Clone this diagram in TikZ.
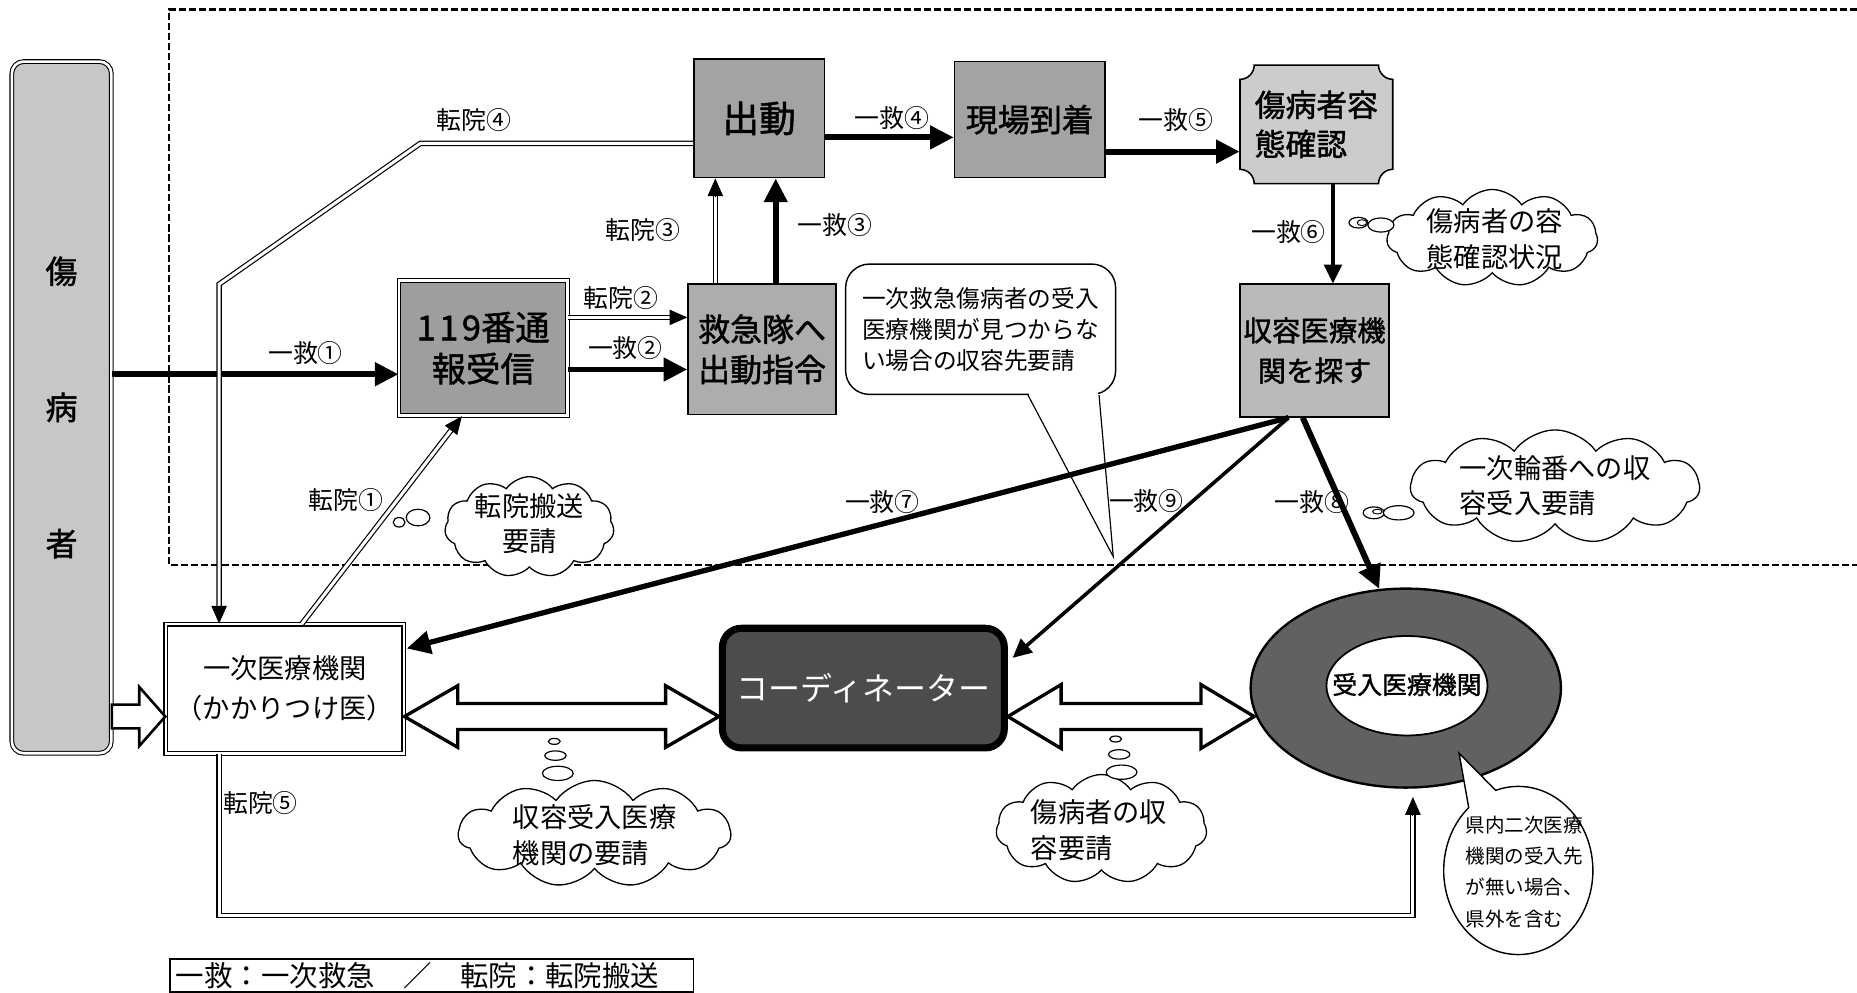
\documentclass[tikz,border=0pt]{standalone}
\usepackage{fontspec}
\setmainfont{Noto Sans CJK JP}
\newfontfamily\jpb{Noto Sans CJK JP}[FakeBold=1.4]
\usetikzlibrary{arrows.meta,shapes.geometric,shapes.symbols,shapes.callouts,calc}
\newcommand\myfs[2]{\fontsize{#1}{#2}\selectfont}
\begin{document}
\begin{tikzpicture}[x=1pt,y=-1pt,
  gbox/.style={draw,line width=1.3pt,align=center,inner sep=0pt},
  dbl/.style={double,double distance=2.2pt,line width=0.9pt},
  lab/.style={inner sep=0pt,font=\myfs{21}{21}},
  kyu/.style={line width=5pt,-{Triangle[length=20pt,width=19pt]}},
  kyum/.style={line width=3pt,-{Triangle[length=16pt,width=15pt]}},
  ten/.style={double,double distance=2.6pt,line width=1pt,shorten >=12pt},
  tentip/.style={line width=0.8pt,-{Triangle[length=15pt,width=13pt]}},
  blk/.style={draw,line width=2.8pt,fill=white,line join=miter},
  cld/.style={cloud,draw,line width=1.1pt,fill=white,cloud puffs=11,cloud puff arc=110,cloud ignores aspect,inner sep=0pt},
  ctext/.style={align=left,inner sep=0pt,font=\myfs{23}{30}},
  bub/.style={draw,line width=1pt,fill=white},
]
\useasboundingbox (0,0) rectangle (1568,838);
\fill[white] (0,0) rectangle (1568,838);

% dashed frame
\draw[line width=1.9pt,dash pattern=on 6pt off 2.5pt] (1568,8) -- (143,8) -- (143,477) -- (1568,477);

% boxes
\node[gbox,fill=black!22,double,double distance=2.2pt,line width=0.9pt,rounded corners=10pt,
      minimum width=84,minimum height=584,font=\jpb\myfs{27}{27}] (sick) at (52,344) {傷\\[88pt]病\\[88pt]者};
\node[gbox,fill=black!38,dbl,minimum width=142,minimum height=114,font=\jpb\myfs{29}{35}] (e119) at (408,294) {1\hspace{3pt}1\hspace{3pt}9番通\\報受信};
\node[gbox,fill=black!32,minimum width=125,minimum height=110,font=\jpb\myfs{27}{34}] (kyutai) at (643.5,295) {救急隊へ\\出動指令};
\node[gbox,fill=black!36,minimum width=110,minimum height=100,font=\jpb\myfs{31}{32}] (shutsu) at (641,100) {出動};
\node[gbox,fill=black!36,minimum width=127,minimum height=98,font=\jpb\myfs{27}{32}] (genba) at (869.5,101) {現場到着};
\filldraw[fill=black!20,line width=1.3pt] (1059,55) -- (1164,55) .. controls (1164,61.6) and (1169.4,67) .. (1176,67)
  -- (1176,143) .. controls (1169.4,143) and (1164,148.4) .. (1164,155)
  -- (1059,155) .. controls (1059,148.4) and (1053.6,143) .. (1047,143)
  -- (1047,67) .. controls (1053.6,67) and (1059,61.6) .. cycle;
\node[minimum width=129,minimum height=100,inner sep=0pt,align=left,font=\jpb\myfs{26}{33}] (yotai) at (1111.5,105) {傷病者容\\態確認};
\node[gbox,fill=black!27,minimum width=126,minimum height=112,font=\jpb\myfs{24}{34}] (shuyo) at (1110,296) {収容医療機\\関を探す};
\node[gbox,fill=white,dbl,minimum width=201,minimum height=109,font=\myfs{23}{34}] (ichiji) at (240.5,581.5) {一次医療機関\\（かかりつけ医）};
\node[draw,line width=6pt,rounded corners=16pt,fill=black!70,minimum width=238,minimum height=101,
      inner sep=0pt,font=\myfs{27}{30},text=white] (coord) at (729,581) {コーディネーター};
\node[ellipse,draw,line width=2pt,fill=black!62,minimum width=262,minimum height=168,inner sep=0pt] (ukeire) at (1187,581) {};
\node[ellipse,draw,line width=1.5pt,fill=white,minimum width=136,minimum height=84,inner sep=0pt] (inner) at (1188,579) {};
\node[inner sep=0pt,font=\jpb\myfs{21}{21}] (ukeireT) at (1188,578) {受入医療機関};

% callout: rounded rectangle
\node[draw,line width=1.2pt,rounded corners=20pt,fill=white,minimum width=228,minimum height=110,
      align=left,inner sep=0pt,font=\myfs{20}{26}] (cA) at (828,278) {一次救急傷病者の受入\\医療機関が見つからな\\い場合の収容先要請};
\coordinate (tipA) at (940,470);
\coordinate (bA1) at ($(cA.south)+(40,0)$);
\coordinate (bA2) at ($(cA.south)+(100,0)$);
\fill[white] ($(bA1)+(1,-3)$) rectangle ($(bA2)+(-1,3)$);
\draw[line width=1pt] (bA1) -- (tipA) -- (bA2);

% callout: ellipse
\coordinate (tipB) at (1232,636);
\node[ellipse callout,draw,line width=1.2pt,fill=white,minimum width=126,minimum height=142,inner sep=0pt,
      callout absolute pointer={(tipB)},callout pointer arc=24] (cB) at (1282,735) {};
\node[align=left,inner sep=0pt,font=\myfs{16.5}{26.5}] (cBt) at (1287,736) {県内二次医療\\機関の受入先\\が無い場合、\\県外を含む};

% clouds
\node[cld,minimum width=143,minimum height=85] (c1) at (447,445) {};
\node[ctext,align=center] (c1t) at (447,442) {転院搬送\\要請};
\node[cld,minimum width=178,minimum height=82] (c2) at (1260,201) {};
\node[ctext] (c2t) at (1262,202) {傷病者の容\\態確認状況};
\node[cld,minimum width=244,minimum height=96] (c3) at (1313,411) {};
\node[ctext] (c3t) at (1313,410) {一次輪番への収\\容受入要請};
\node[cld,minimum width=230,minimum height=90] (c4) at (502,704) {};
\node[ctext] (c4t) at (502,705) {収容受入医療\\機関の要請};
\node[cld,minimum width=178,minimum height=92] (c5) at (930,700) {};
\node[ctext] (c5t) at (928,701) {傷病者の収\\容要請};

% thought bubbles
\draw[bub] (337,441) ellipse [x radius=5,y radius=4];
\draw[bub] (353,437) ellipse [x radius=10,y radius=7];
\draw[bub] (1147,188) ellipse [x radius=8,y radius=4.5];
\draw[line width=0.8pt] (1150,188) ellipse [x radius=4,y radius=2.5];
\draw[bub] (1166,190) ellipse [x radius=11,y radius=6];
\draw[bub] (1160,433) ellipse [x radius=9,y radius=5];
\draw[line width=0.8pt] (1163,432) ellipse [x radius=4,y radius=2];
\draw[bub] (1181,433) ellipse [x radius=13,y radius=6];
\draw[bub] (468,626) ellipse [x radius=5,y radius=2.5];
\draw[bub] (469,638) ellipse [x radius=9,y radius=4];
\draw[bub] (471,653) ellipse [x radius=13,y radius=6];
\draw[bub] (942,624) ellipse [x radius=5,y radius=2.5];
\draw[bub] (945,637) ellipse [x radius=9,y radius=4];
\draw[bub] (947,652) ellipse [x radius=13,y radius=6];

% block arrows
\draw[blk,line width=2.2pt] let \p1=($(sick.east)+(0,261)$), \p2=($(ichiji.west)+(0,23.5)$) in
  (\x1,\y1+10pt) -- (\x2-22pt,\y1+10pt) -- (\x2-22pt,\y1+25pt) -- (\x2,\y1) -- (\x2-22pt,\y1-25pt) -- (\x2-22pt,\y1-10pt) -- (\x1,\y1-10pt) -- cycle;
\draw[blk] let \p1=($(ichiji.east)+(0,23.5)$), \p2=(coord.west) in
  (\x1,\y1) -- (\x1+45pt,\y1+26pt) -- (\x1+45pt,\y1+11pt) -- (\x2-45pt,\y1+11pt) -- (\x2-45pt,\y1+26pt) -- (\x2,\y1)
  -- (\x2-45pt,\y1-26pt) -- (\x2-45pt,\y1-11pt) -- (\x1+45pt,\y1-11pt) -- (\x1+45pt,\y1-26pt) -- cycle;
\draw[blk] let \p1=($(coord.east)+(0,24)$), \p2=($(ukeire.west)+(4,24)$) in
  (\x1,\y1) -- (\x1+45pt,\y1+27pt) -- (\x1+45pt,\y1+11pt) -- (\x2-45pt,\y1+11pt) -- (\x2-45pt,\y1+27pt) -- (\x2,\y1)
  -- (\x2-45pt,\y1-27pt) -- (\x2-45pt,\y1-11pt) -- (\x1+45pt,\y1-11pt) -- (\x1+45pt,\y1-27pt) -- cycle;

% 一救 arrows
\draw[kyu] ($(sick.east)+(0,-28)$) -- ($(e119.west)+(0,22)$);
\draw[kyu] ($(e119.east)+(0,18)$) -- ($(kyutai.west)+(0,17)$);
\draw[kyu] ($(kyutai.north)+(11.5,0)$) -- ($(shutsu.south)+(14,0)$);
\draw[kyu] ($(shutsu.east)+(0,16)$) -- ($(genba.west)+(0,15)$);
\draw[kyu] ($(genba.east)+(0,27)$) -- ($(yotai.west)+(0,23)$);
\draw[kyum] ($(yotai.south)+(14,0)$) -- ($(shuyo.north)+(15.5,0)$);
\draw[kyu,line width=4.5pt] ($(shuyo.south)+(-22,0)$) -- ($(ichiji.north east)+(2,21)$);
\draw[kyu] ($(shuyo.south)+(-10,0)$) -- (ukeire.105);
\draw[kyum] ($(shuyo.south)+(-22,0)$) -- ($(coord.north east)+(4,28)$);

% 転院 arrows
\coordinate (t1s) at ($(ichiji.north)+(14.5,0)$);
\coordinate (t1e) at ($(e119.south)+(-18,0)$);
\draw[ten] (t1s) -- (t1e);
\draw[tentip] ($(t1e)!15pt!(t1s)$) -- (t1e);
\coordinate (t2s) at ($(e119.east)+(0,-26)$);
\coordinate (t2e) at ($(kyutai.west)+(0,-27)$);
\draw[ten] (t2s) -- (t2e);
\draw[tentip] ($(t2e)!15pt!(t2s)$) -- (t2e);
\coordinate (t3s) at ($(kyutai.north)+(-39.5,0)$);
\coordinate (t3e) at ($(shutsu.south)+(-37,0)$);
\draw[ten] (t3s) -- (t3e);
\draw[tentip] ($(t3e)!15pt!(t3s)$) -- (t3e);
\coordinate (t4s) at ($(shutsu.west)+(0,21)$);
\coordinate (t4a) at (355,121);
\coordinate (t4b) at (185,240);
\coordinate (t4e) at ($(ichiji.north)+(-55.5,0)$);
\draw[ten] (t4s) -- (t4a) -- (t4b) -- (t4e);
\draw[tentip] ($(t4e)!15pt!(t4b)$) -- (t4e);
\coordinate (t5s) at ($(ichiji.south)+(-55.5,0)$);
\coordinate (t5e) at ($(ukeire.south)+(6,7)$);
\coordinate (t5c) at (185,773);
\coordinate (t5d) at (1193,773);
\draw[ten] (t5s) -- (t5c) -- (t5d) -- (t5e);
\draw[tentip] ($(t5e)!15pt!(t5d)$) -- (t5e);

% labels
\node[lab] (l1) at (258,298) {一救①};
\node[lab] (l2) at (528,294) {一救②};
\node[lab] (l3) at (705,190) {一救③};
\node[lab] (l4) at (753,100) {一救④};
\node[lab] (l5) at (993,101) {一救⑤};
\node[lab] (l6) at (1088,196) {一救⑥};
\node[lab] (l7) at (745,424) {一救⑦};
\node[lab] (l8) at (1108,424) {一救⑧};
\node[lab] (l9) at (968,423) {一救⑨};
\node[lab] (m1) at (292,422) {転院①};
\node[lab] (m2) at (524,252) {転院②};
\node[lab] (m3) at (543,194) {転院③};
\node[lab] (m4) at (400,101) {転院④};
\node[lab] (m5) at (220,678) {転院⑤};

% legend
\node[draw,line width=1.2pt,anchor=north west,text width=432,inner xsep=5pt,inner ysep=0pt,minimum height=28,
      align=left,font=\myfs{24}{24}] (legend) at (143,809) {一救：一次救急　／　転院：転院搬送};
\end{tikzpicture}
\end{document}
